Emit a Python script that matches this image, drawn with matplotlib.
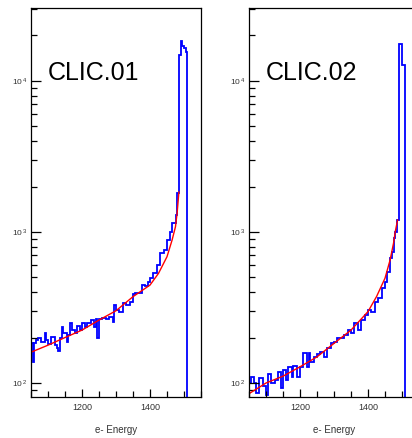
import numpy as np
import matplotlib
matplotlib.use("Agg")
import matplotlib.pyplot as plt
from matplotlib.ticker import MultipleLocator, LogLocator, FuncFormatter, NullFormatter

plt.rcParams['font.family'] = ['Liberation Sans', 'DejaVu Sans']
plt.rcParams['mathtext.fontset'] = 'custom'
plt.rcParams['mathtext.rm'] = 'Liberation Sans'
plt.rcParams['mathtext.it'] = 'Liberation Sans'

# ---------------- data ----------------
bin_start = 1050
bin_width = 5

clic01_counts = [
    185, 138, 185, 193, 199, 199, 188, 188, 214, 193,
    181, 181, 203, 203, 178, 170, 163, 199, 234, 214,
    214, 188, 208, 248, 224, 224, 214, 238, 238, 224,
    248, 248, 236, 248, 248, 261, 261, 236, 265, 198,
    265, 265, 268, 268, 265, 265, 272, 272, 255, 329,
    304, 304, 297, 297, 340, 340, 329, 329, 345, 345,
    388, 396, 396, 396, 396, 445, 445, 439, 439, 469,
    494, 494, 532, 532, 604, 604, 722, 722, 760, 760,
    885, 885, 1005, 1143, 1143, 1300, 1800, 14900, 18500, 17000,
    16600, 15600, 0,
]

clic02_counts = [
    100, 110, 110, 100, 86, 86, 108, 108, 95, 95,
    83, 114, 114, 100, 100, 105, 105, 119, 119, 92,
    122, 122, 105, 128, 128, 110, 130, 130, 110, 110,
    128, 128, 157, 157, 128, 157, 138, 138, 149, 149,
    155, 155, 161, 161, 149, 149, 170, 170, 183, 183,
    188, 188, 198, 198, 198, 198, 208, 208, 224, 224,
    214, 214, 248, 248, 224, 224, 261, 261, 282, 282,
    304, 304, 297, 297, 345, 345, 364, 364, 424, 424,
    469, 546, 546, 670, 742, 908, 1000, 1200, 17500, 17500,
    12800, 12800, 0,
]

fit01_x = [1050, 1100, 1150, 1200, 1250, 1300, 1350, 1400, 1425, 1450, 1465, 1475, 1480, 1485]
fit01_y = [160, 178, 200, 224, 261, 301, 373, 445, 532, 686, 885, 1085, 1350, 1840]

fit02_x = [1050, 1100, 1150, 1200, 1250, 1300, 1350, 1400, 1425, 1450, 1465, 1475, 1480, 1487]
fit02_y = [85, 100, 111, 128, 149, 183, 224, 297, 373, 494, 653, 841, 1000, 1200]

panel_titles = ["CLIC.01", "CLIC.02"]
x_label = "e- Energy"
x_range = (1050, 1550)
y_range = (80.8, 30400)

# ---------------- figure ----------------
W, H = 412, 438
fig = plt.figure(figsize=(W / 100, H / 100), dpi=100)


def yfmt(v, pos):
    e = int(round(np.log10(v)))
    return r'$10^{\,%d}$' % e


def make_panel(left_px, counts, fx, fy, title):
    ax = fig.add_axes([left_px / W, (H - 397) / H, 170 / W, 389 / H])
    edges = bin_start + bin_width * np.arange(len(counts) + 1)
    ax.set_yscale('log')
    ax.stairs(np.array(counts, dtype=float), edges, baseline=None,
              color='#0000ff', lw=1.3)
    ax.plot(fx, fy, color='#ff0000', lw=1.0)
    ax.set_xlim(*x_range)
    ax.set_ylim(*y_range)
    ax.xaxis.set_major_locator(MultipleLocator(200))
    ax.xaxis.set_minor_locator(MultipleLocator(50))
    ax.yaxis.set_major_locator(LogLocator(base=10))
    ax.yaxis.set_minor_locator(LogLocator(base=10, subs=np.arange(2, 10)))
    ax.yaxis.set_major_formatter(FuncFormatter(yfmt))
    ax.yaxis.set_minor_formatter(NullFormatter())
    ax.tick_params(which='both', direction='in', top=False, right=False,
                   colors='black', labelcolor='#333333', width=0.9)
    ax.tick_params(axis='x', which='major', length=6, labelsize=6.5, pad=4)
    ax.tick_params(axis='x', which='minor', length=4)
    ax.tick_params(axis='y', which='major', length=7, labelsize=6, pad=3)
    ax.tick_params(axis='y', which='minor', length=4)
    for s in ax.spines.values():
        s.set_linewidth(0.9)
        s.set_color('black')
    ax.set_xlabel(x_label, fontsize=7, color='#333333')
    ax.xaxis.set_label_coords(0.5, -33 / 389)
    ax.xaxis.label.set_va('center')
    ax.text(0.10, 0.833, title, transform=ax.transAxes, fontsize=18,
            ha='left', va='center', color='black')
    return ax


make_panel(31, clic01_counts, fit01_x, fit01_y, panel_titles[0])
make_panel(249, clic02_counts, fit02_x, fit02_y, panel_titles[1])

fig.savefig('out.png', dpi=100, facecolor='white')
